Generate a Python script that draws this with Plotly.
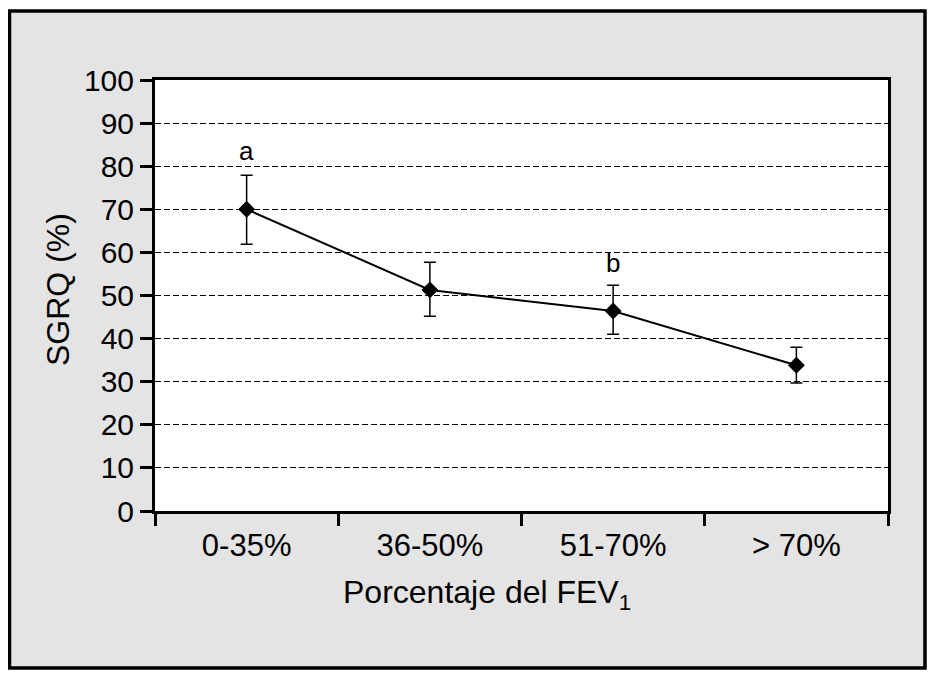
import plotly.graph_objects as go

categories = ["0-35%", "36-50%", "51-70%", "> 70%"]
means = [70.0, 51.3, 46.4, 33.8]
upper = [77.9, 57.7, 52.4, 38.0]
lower = [61.9, 45.2, 41.0, 29.7]
letters = ["a", "", "b", ""]
letter_y = [83.5, None, 57.5, None]
y_ticks = list(range(0, 101, 10))

FONT = "Liberation Sans"
W, H = 920, 666
L, R, T, B = 147, 40, 72, 163
pw, ph = W - L - R, H - T - B

def px_x(x):
    return (x - L) / pw

def px_y(y):
    return (H - B - y) / ph

fig = go.Figure()
fig.add_trace(go.Scatter(
    x=categories, y=means, mode="lines+markers",
    line=dict(color="black", width=2),
    marker=dict(symbol="diamond", size=13, color="black"),
    error_y=dict(type="data", symmetric=False,
                 array=[u - m for u, m in zip(upper, means)],
                 arrayminus=[m - l for m, l in zip(means, lower)],
                 color="black", thickness=1.5, width=6),
    showlegend=False,
))

for c, t, ly in zip(categories, letters, letter_y):
    if t:
        fig.add_annotation(x=c, y=ly, text=t, showarrow=False,
                           yanchor="middle", font=dict(family=FONT, size=26, color="black"))

fig.add_annotation(xref="paper", yref="paper", x=px_x(479), y=px_y(586),
                   text="Porcentaje del FEV<sub>1</sub>", showarrow=False,
                   xanchor="center", yanchor="middle",
                   font=dict(family=FONT, size=32, color="black"))

fig.add_annotation(xref="paper", yref="paper", x=px_x(50), y=px_y(282),
                   text="SGRQ (%)", showarrow=False, textangle=-90,
                   xanchor="center", yanchor="middle",
                   font=dict(family=FONT, size=32, color="black"))

# gray panel with black frame, then white plotting area on top of it
fig.add_shape(type="rect", xref="paper", yref="paper",
              x0=px_x(1.5), x1=px_x(917), y0=px_y(660), y1=px_y(3),
              line=dict(color="black", width=3.5), fillcolor="#e4e4e4", layer="below")
fig.add_shape(type="rect", xref="paper", yref="paper", x0=0, x1=1, y0=0, y1=1,
              line=dict(width=0), fillcolor="white", layer="below")

fig.update_layout(
    width=W, height=H,
    margin=dict(l=L, r=R, t=T, b=B),
    paper_bgcolor="white", plot_bgcolor="white",
    font=dict(family=FONT, size=31, color="black"),
    xaxis=dict(type="category", range=[-0.5, 3.5], tickson="boundaries", ticks="outside",
               ticklen=12, tickwidth=3, tickcolor="black", showline=True, linewidth=3,
               linecolor="black", mirror=True, showgrid=False,
               tickfont=dict(family=FONT, size=31), ticklabelstandoff=5),
    yaxis=dict(range=[0, 100], tickvals=y_ticks, ticks="outside", ticklen=12,
               tickwidth=3, tickcolor="black", showline=True, linewidth=3, linecolor="black",
               mirror=True, showgrid=True, gridcolor="black", gridwidth=1, griddash="6px,3px",
               zeroline=False, tickfont=dict(family=FONT, size=30), ticklabelstandoff=0),
)

fig.write_html("out.html")
